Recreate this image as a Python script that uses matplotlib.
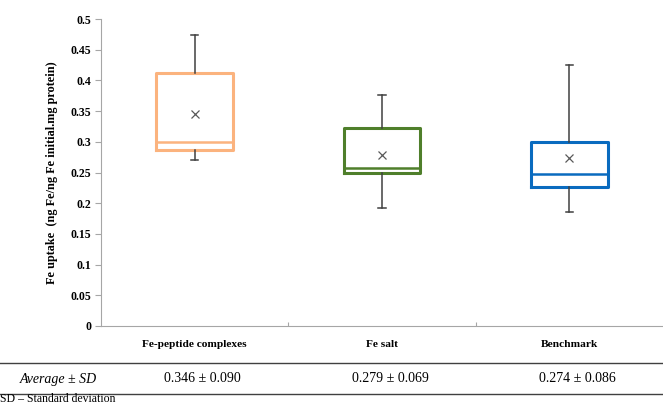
import matplotlib.pyplot as plt
from matplotlib.lines import Line2D

plt.rcParams['font.family'] = ['Liberation Serif', 'DejaVu Serif']

groups = ['Fe-peptide complexes', 'Fe salt', 'Benchmark']
whislo = [0.270, 0.192, 0.186]
q1 = [0.287, 0.249, 0.227]
med = [0.300, 0.257, 0.247]
q3 = [0.412, 0.323, 0.300]
whishi = [0.474, 0.377, 0.425]
means = [0.346, 0.279, 0.274]
sds = [0.090, 0.069, 0.086]
colors = ['#FBB37E', '#4F7F2B', '#0A6BBF']
yticks = [0, 0.05, 0.1, 0.15, 0.2, 0.25, 0.3, 0.35, 0.4, 0.45, 0.5]

fig = plt.figure(figsize=(6.63, 4.05), dpi=100)
ax = fig.add_axes([101/663, 1 - 326/405, 562/663, 307/405])

stats = []
for i in range(3):
    stats.append(dict(label=groups[i], whislo=whislo[i], q1=q1[i], med=med[i],
                      q3=q3[i], whishi=whishi[i], mean=means[i], fliers=[]))

bp = ax.bxp(stats, positions=[1, 2, 3], widths=0.41, showmeans=True,
            patch_artist=False, showfliers=False)
for i in range(3):
    bp['boxes'][i].set(color=colors[i], linewidth=2.2)
    bp['medians'][i].set(color=colors[i], linewidth=1.8)
    bp['means'][i].set(marker='x', markeredgecolor='#595959', markersize=6,
                       markeredgewidth=0.9)
    for w in bp['whiskers'][2*i:2*i+2]:
        w.set(color='#404040', linewidth=1.1)
    for c in bp['caps'][2*i:2*i+2]:
        c.set(color='#404040', linewidth=1.1)
        c.set_xdata([i + 1 - 0.02, i + 1 + 0.02])

ax.set_xlim(0.5, 3.5)
ax.set_ylim(0, 0.5)
ax.set_yticks(yticks)
ax.set_yticklabels(['0', '0.05', '0.1', '0.15', '0.2', '0.25', '0.3', '0.35',
                    '0.4', '0.45', '0.5'], fontsize=8.5, fontweight='bold')
ax.set_xticks([1.5, 2.5])
ax.set_xticklabels([])
ax.tick_params(axis='x', length=3, color='#A6A6A6', direction='in')
ax.tick_params(axis='y', length=4, color='#A6A6A6', pad=3)
for i, g in enumerate(groups):
    ax.text(i + 1, -0.03, g, ha='center', va='center', fontsize=8.2,
            fontweight='bold', transform=ax.transData)
ax.spines['top'].set_visible(False)
ax.spines['right'].set_visible(False)
ax.spines['left'].set_color('#A6A6A6')
ax.spines['bottom'].set_color('#A6A6A6')
ax.set_ylabel('Fe uptake  (ng Fe/ng Fe initial.mg protein)', fontsize=8.8,
              fontweight='bold', labelpad=9)

# table under the chart
fig.add_artist(Line2D([0, 1], [1 - 363/405, 1 - 363/405], color='#404040', lw=1))
fig.add_artist(Line2D([0, 1], [1 - 394/405, 1 - 394/405], color='#404040', lw=1))
fig.text(20/663, 1 - 379/405, 'Average ± SD', fontsize=10, style='italic',
         va='center')
for i in range(3):
    xfig = (101 + (i + 0.5) * 562/3) / 663
    fig.text(xfig + 0.012, 1 - 379/405, f'{means[i]:.3f} ± {sds[i]:.3f}',
             fontsize=10, ha='center', va='center')
fig.text(0.0, 1 - 399.5/405, 'SD – Standard deviation', fontsize=8.5, va='center')

fig.savefig('out.png', dpi=100)
